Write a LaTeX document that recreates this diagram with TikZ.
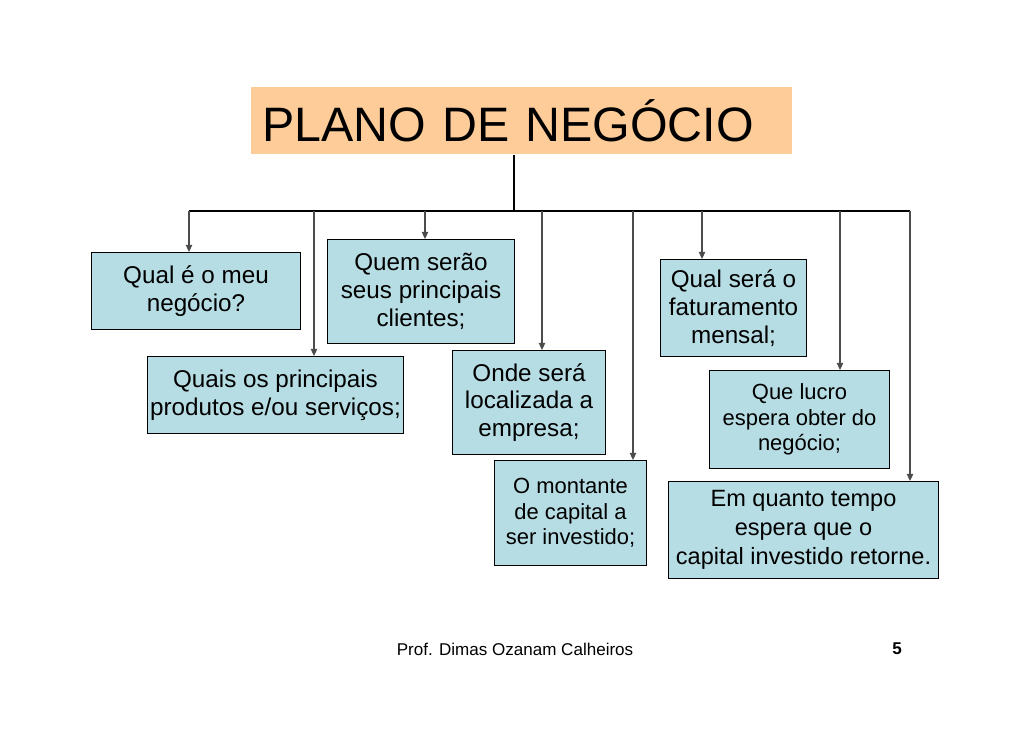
\documentclass[tikz,border=0pt]{standalone}
\usepackage{fontspec}
\setmainfont{Liberation Sans}
\usepackage{xcolor}
\usetikzlibrary{arrows.meta}

\definecolor{laranja}{RGB}{253,204,153}
\definecolor{azulclaro}{RGB}{183,221,228}

\begin{document}
\begin{tikzpicture}[
    x=0.02cm, y=-0.02cm,
    >={Triangle[length=4pt,width=3.6pt]},
    titulo/.style={
        rectangle,
        fill=laranja,
        anchor=north west,
        inner xsep=0.22cm,
        text width=10.38cm,
        minimum height=1.34cm,
        align=left,
        font=\fontsize{27.5}{30}\selectfont
    },
    caixa/.style={
        rectangle,
        draw=black,
        line width=0.6pt,
        fill=azulclaro,
        anchor=north west,
        inner sep=0pt,
        align=center,
        font=\fontsize{13.8}{15.9}\selectfont
    },
    menor/.style={font=\fontsize{12.5}{14.5}\selectfont},
    seta/.style={->, line width=0.6pt, draw=black!70},
    barra/.style={line width=0.6pt}
]
\useasboundingbox[fill=white] (0,0) rectangle (1030,728);

\node[titulo] (plano) at (251,87) {PLANO DE NEGÓCIO};

\node[caixa, minimum width=4.18cm, minimum height=1.54cm] (negocio) at (91,252) {Qual é o meu\\negócio?};
\node[caixa, minimum width=5.12cm, minimum height=1.54cm] (produtos) at (147,356) {Quais os principais\\produtos e/ou serviços;};
\node[caixa, minimum width=3.74cm, minimum height=2.08cm] (clientes) at (327,239) {Quem serão\\seus principais\\clientes;};
\node[caixa, minimum width=3.06cm, minimum height=2.08cm] (local) at (452,350) {Onde será\\localizada a\\empresa;};
\node[caixa, menor, minimum width=3.04cm, minimum height=2.10cm] (montante) at (494,460) {O montante\\de capital a\\ser investido;};
\node[caixa, minimum width=2.92cm, minimum height=1.94cm] (faturamento) at (660,259) {Qual será o\\faturamento\\mensal;};
\node[caixa, menor, minimum width=3.60cm, minimum height=1.96cm] (lucro) at (709,370) {Que lucro\\espera obter do\\negócio;};
\node[caixa, minimum width=5.40cm, minimum height=1.94cm, font=\fontsize{13.4}{16.5}\selectfont] (retorno) at (668,481) {Em quanto tempo\\espera que o\\capital investido retorne.};

% barramento
\coordinate (tronco) at (514,211);
\coordinate (b1) at (189,211);
\coordinate (b2) at (314,211);
\coordinate (b3) at (425,211);
\coordinate (b4) at (542,211);
\coordinate (b5) at (633,211);
\coordinate (b6) at (702,211);
\coordinate (b7) at (840,211);
\coordinate (b8) at (910,211);

\draw[barra] (tronco |- plano.south) -- (tronco);
\draw[barra] (b1) -- (b8);

\foreach \b/\c in {b1/negocio, b2/produtos, b3/clientes, b4/local,
                   b5/montante, b6/faturamento, b7/lucro, b8/retorno}
    \draw[seta] (\b) -- (\b |- \c.north);

\node[font=\fontsize{9.7}{11}\selectfont] (autor) at (515,649) {Prof. Dimas Ozanam Calheiros};
\node[font=\fontsize{9.7}{11}\selectfont\bfseries] (pagina) at (897,649) {5};

\end{tikzpicture}
\end{document}
